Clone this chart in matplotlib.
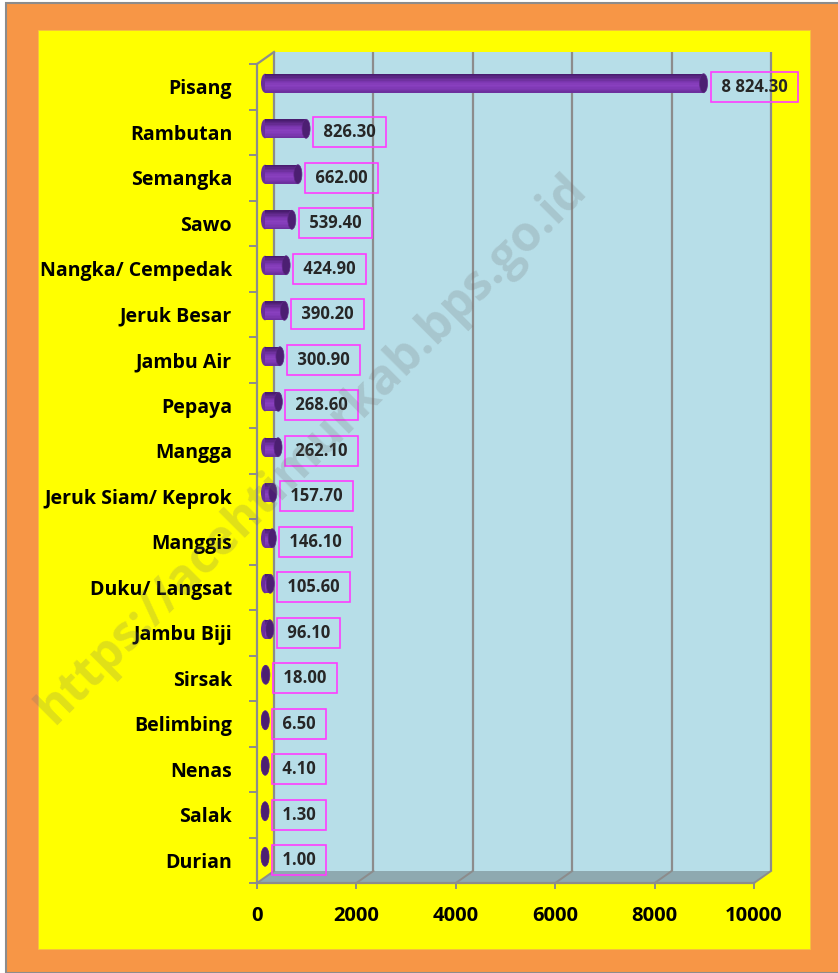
import matplotlib
matplotlib.use("Agg")
import matplotlib.pyplot as plt
from matplotlib.patches import Rectangle, Polygon, Ellipse
from matplotlib.colors import LinearSegmentedColormap

# data
kategori = ["Pisang", "Rambutan", "Semangka", "Sawo", "Nangka/ Cempedak",
            "Jeruk Besar", "Jambu Air", "Pepaya", "Mangga", "Jeruk Siam/ Keprok",
            "Manggis", "Duku/ Langsat", "Jambu Biji", "Sirsak", "Belimbing",
            "Nenas", "Salak", "Durian"]
nilai = [8824.30, 826.30, 662.00, 539.40, 424.90, 390.20, 300.90, 268.60,
         262.10, 157.70, 146.10, 105.60, 96.10, 18.00, 6.50, 4.10, 1.30, 1.00]
xticks = [0, 2000, 4000, 6000, 8000, 10000]
XMAX = 10000

W, H, DPI = 838, 973, 100
plt.rcParams["font.family"] = ["Open Sans", "DejaVu Sans"]

fig = plt.figure(figsize=(W / DPI, H / DPI), dpi=DPI, facecolor="white")

# backgrounds: orange frame + yellow panel
fig.add_artist(Rectangle((6 / W, 0), 1, 1 - 3 / H, transform=fig.transFigure,
                         fc="#F79646", ec="#8C8C8C", lw=1.5, zorder=-10))
fig.add_artist(Rectangle((38 / W, 1 - 949 / H), (810 - 38) / W, (949 - 30) / H,
                         transform=fig.transFigure, fc="#FFFF00", ec="#F5C040",
                         lw=0.6, zorder=-9))

# front plane of the plot area
x0, x1, ytop, ybot = 257, 754, 64, 883
ax = fig.add_axes([x0 / W, 1 - ybot / H, (x1 - x0) / W, (ybot - ytop) / H])
ax.set_facecolor("none")
n = len(kategori)
ax.set_xlim(0, XMAX)
ax.set_ylim(n - 0.5, -0.5)

PXX = XMAX / (x1 - x0)       # data units per pixel
PXY = n / (ybot - ytop)
DX, DY = 17 * PXX, 12 * PXY  # depth offset of back wall
GRAY = "#8C8C8C"

# back wall, floor and grid
ax.add_patch(Rectangle((DX, -0.5 - DY), XMAX, n, fc="#B7DEE8", ec="none",
                       zorder=0, clip_on=False))
yb = n - 0.5
ax.add_patch(Polygon([(0, yb), (XMAX, yb), (XMAX + DX, yb - DY), (DX, yb - DY)],
                     closed=True, fc="#8EA9B0", ec="none", zorder=0.5, clip_on=False))
for xv in xticks:
    ax.plot([xv + DX, xv + DX], [-0.5 - DY, yb - DY], color=GRAY, lw=1.6,
            zorder=1, clip_on=False, solid_capstyle="butt")
    ax.plot([xv, xv + DX], [yb, yb - DY], color=GRAY, lw=1.4, zorder=1, clip_on=False)
ax.plot([0, DX], [-0.5, -0.5 - DY], color=GRAY, lw=1.6, zorder=1, clip_on=False)

# cylinder bars: stacked thin strips for a vertical shading
BX, BY = 8 * PXX, 3.5 * PXY
bh = 19 * PXY
cap = 8 * PXX
ypos = [i - BY for i in range(n)]
shade = LinearSegmentedColormap.from_list(
    "cyl", ["#6A2E9A", "#7D38B2", "#8A40C0", "#7A36AE", "#5E2888", "#44196A"])
NS = 14
for v, y in zip(nilai, ypos):
    ax.add_patch(Ellipse((BX, y), cap, bh, fc="#6A2E9A", ec="none", zorder=2, clip_on=False))
for k in range(NS):
    f = (k + 0.5) / NS
    ys = [y - bh / 2 + f * bh for y in ypos]
    ax.barh(ys, nilai, left=BX, height=bh / NS * 1.05, color=shade(1 - f),
            zorder=2.1, linewidth=0)
for v, y in zip(nilai, ypos):
    ax.add_patch(Ellipse((BX + v, y), cap, bh, fc="#4C1F72", ec="#5E2888",
                         lw=0.5, zorder=2.5, clip_on=False))

# value labels
for i, v in enumerate(nilai):
    txt = f"{v:,.2f}".replace(",", " ")
    ax.annotate(" " + txt + " ", xy=(v, i), xytext=(21, 0), textcoords="offset pixels",
                ha="left", va="center", fontsize=12, fontweight="bold",
                color="#262626", zorder=5, annotation_clip=False,
                bbox=dict(boxstyle="square,pad=0.36", fc="none", ec="#FF3CFF", lw=1.2))

# axes styling
for s in ["top", "right"]:
    ax.spines[s].set_visible(False)
for s in ["left", "bottom"]:
    ax.spines[s].set_color(GRAY)
    ax.spines[s].set_linewidth(1.6)
ax.set_yticks(range(n), labels=kategori)
ax.set_yticks([k - 0.5 for k in range(n + 1)], minor=True)
ax.tick_params(axis="y", which="major", length=0, pad=18)
ax.tick_params(axis="y", which="minor", length=5.5, width=1.4, color=GRAY)
ax.set_xticks(xticks, labels=[str(t) for t in xticks])
ax.tick_params(axis="x", length=4.5, width=1.4, color=GRAY, pad=12)
for lab in ax.get_yticklabels():
    lab.set_fontsize(14)
    lab.set_fontweight("bold")
for lab in ax.get_xticklabels():
    lab.set_fontsize(14.5)
    lab.set_fontweight("bold")

# watermark
fig.text(0.372, 0.5375, "https://acehtimurkab.bps.go.id", rotation=45,
         ha="center", va="center", fontsize=35, fontweight="bold",
         color="#707070", alpha=0.22, zorder=10)

fig.savefig("out.png", dpi=DPI, facecolor=fig.get_facecolor())
